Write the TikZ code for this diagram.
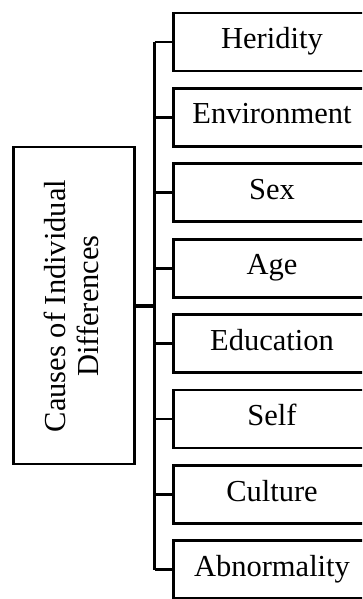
\documentclass[tikz,border=0pt]{standalone}
\usepackage{fontspec}
\setmainfont{Liberation Serif}
\begin{document}
\begin{tikzpicture}[x=1pt,y=-1pt,
  line/.style={line width=2.8pt},
  lbl/.style={font=\fontsize{30.5}{33}\selectfont, inner sep=0pt},
  boxline/.style={draw, line width=2.8pt}]
\useasboundingbox (0,0) rectangle (362,599);
\clip (0,0) rectangle (362,599);
% left box
\draw[boxline] (13.8,147) rectangle (134.5,464);
\node[lbl, rotate=90, align=center] (main) at (71.5,306) {Causes of Individual\\Differences};
\coordinate (mainR) at (134.5,306);
\coordinate (bus) at (154.7,306);
\draw[line width=4.2pt] (mainR) -- (bus);
% right boxes
\foreach \t [count=\i from 0] in {Heridity,Environment,Sex,Age,Education,Self,Culture,Abnormality}{
  \pgfmathsetmacro{\top}{13+75.4*\i}
  \pgfmathsetmacro{\mid}{\top+29}
  \draw[boxline] (173.7,\top) rectangle (380,\top+58);
  \node[lbl] (n\i) at (272,\mid) {\strut\t};
  \coordinate (s\i) at (173.7,\mid);
  \coordinate (b\i) at (154.7,\mid);
  \draw[line] (b\i) -- (s\i);
}
\draw[line] (b0) -- (b7);
\end{tikzpicture}
\end{document}
